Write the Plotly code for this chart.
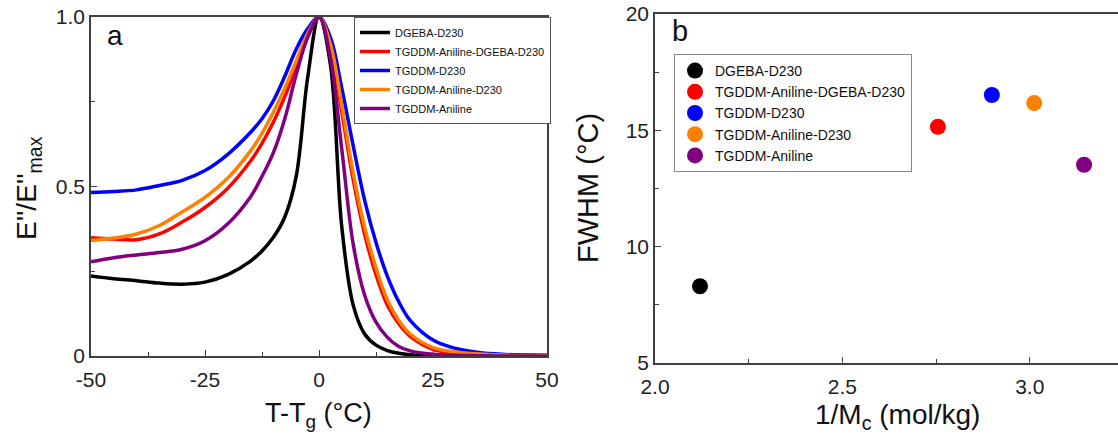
import plotly.graph_objects as go

# ---------------- Data ----------------
series_names = ["DGEBA-D230", "TGDDM-Aniline-DGEBA-D230", "TGDDM-D230",
                "TGDDM-Aniline-D230", "TGDDM-Aniline"]
colors = ["#000000", "#FF0000", "#0000FF", "#FF8000", "#800080"]

t_minus_tg = [-50, -45, -40, -35, -30, -25, -20, -15, -12.5, -10, -7.5, -5, -2.5, 0,
              2.5, 5, 7.5, 10, 12.5, 15, 17.5, 20, 25, 30, 35, 40, 50]

e_dgeba_d230 = [0.236, 0.228, 0.222, 0.215, 0.212, 0.218, 0.24, 0.28, 0.31, 0.35, 0.41, 0.53, 0.82, 1.0,
                0.86, 0.38, 0.15, 0.065, 0.032, 0.016, 0.008, 0.004, 0.001, 0.0, 0.0, 0.0, 0.0]
e_tgddm_an_dgeba = [0.349, 0.345, 0.343, 0.36, 0.395, 0.438, 0.495, 0.575, 0.627, 0.69, 0.765, 0.85, 0.94, 1.0,
                    0.91, 0.72, 0.52, 0.36, 0.24, 0.15, 0.095, 0.058, 0.02, 0.01, 0.005, 0.003, 0.001]
e_tgddm_d230 = [0.482, 0.485, 0.49, 0.503, 0.518, 0.547, 0.595, 0.66, 0.70, 0.753, 0.825, 0.905, 0.965, 1.0,
                0.94, 0.79, 0.62, 0.46, 0.335, 0.235, 0.16, 0.105, 0.047, 0.022, 0.01, 0.005, 0.002]
e_tgddm_an_d230 = [0.341, 0.348, 0.36, 0.385, 0.425, 0.468, 0.525, 0.605, 0.657, 0.72, 0.79, 0.87, 0.95, 1.0,
                   0.92, 0.74, 0.54, 0.38, 0.26, 0.165, 0.105, 0.065, 0.025, 0.012, 0.006, 0.003, 0.001]
e_tgddm_an = [0.278, 0.29, 0.298, 0.305, 0.315, 0.34, 0.39, 0.47, 0.53, 0.60, 0.70, 0.83, 0.94, 1.0,
              0.88, 0.61, 0.33, 0.18, 0.10, 0.055, 0.028, 0.015, 0.005, 0.002, 0.001, 0.0, 0.0]
e_curves = [e_dgeba_d230, e_tgddm_an_dgeba, e_tgddm_d230, e_tgddm_an_d230, e_tgddm_an]

inv_mc = [2.12, 2.755, 2.899, 3.012, 3.145]      # 1/Mc (mol/kg)
fwhm = [8.3, 15.15, 16.52, 16.17, 13.52]         # FWHM (°C)

a_xticks = [-50, -25, 0, 25, 50]
a_xticktext = ["-50", "-25", "0", "25", "50"]
a_yticks = [0, 0.5, 1.0]
a_yticktext = ["0", "0.5", "1.0"]
b_xticks = [2.0, 2.5, 3.0]
b_xticktext = ["2.0", "2.5", "3.0"]
b_yticks = [5, 10, 15, 20]
b_yticktext = ["5", "10", "15", "20"]

# ---------------- Figure ----------------
FONT = "Arial, Liberation Sans, sans-serif"
AXC = "#404040"
W, H = 1118, 438
fig = go.Figure()

for name, col, ys in zip(series_names, colors, e_curves):
    fig.add_trace(go.Scatter(
        x=t_minus_tg, y=ys, mode="lines", name=name,
        line=dict(color=col, width=3.5, shape="spline", smoothing=1.0),
        xaxis="x", yaxis="y", legend="legend"))

for name, col, xv, yv in zip(series_names, colors, inv_mc, fwhm):
    fig.add_trace(go.Scatter(
        x=[xv], y=[yv], mode="markers", name=name,
        marker=dict(color=col, size=16),
        xaxis="x2", yaxis="y2", legend="legend2"))

common = dict(showgrid=False, zeroline=False, showline=True, linecolor=AXC, linewidth=1.5,
              ticks="inside", ticklen=6, tickwidth=1.2, tickcolor=AXC, automargin=False,
              tickfont=dict(family=FONT, size=21, color="#222"))


def px_ann(text, x, y, size=24, angle=0):
    return dict(text=text, x=x / W, y=1 - y / H, xref="paper", yref="paper",
                xanchor="center", yanchor="middle", showarrow=False, textangle=angle,
                font=dict(family=FONT, size=size, color="#111"))


fig.update_layout(
    width=W, height=H, autosize=False,
    margin=dict(l=0, r=0, t=0, b=0, pad=0),
    paper_bgcolor="white", plot_bgcolor="white",
    showlegend=True,
    xaxis=dict(domain=[91 / W, 547 / W], range=[-50, 50], tickvals=a_xticks, ticktext=a_xticktext,
               mirror=True, anchor="y", ticklabelstandoff=4,
               minor=dict(dtick=12.5, tick0=-50, ticks="inside", ticklen=4, tickcolor=AXC), **common),
    yaxis=dict(domain=[1 - 356 / H, 1 - 17 / H], range=[0, 1.0], tickvals=a_yticks, ticktext=a_yticktext,
               mirror=True, anchor="x",
               minor=dict(dtick=0.25, tick0=0, ticks="inside", ticklen=4, tickcolor=AXC), **common),
    xaxis2=dict(domain=[655 / W, 1.0], range=[2.0, 3.2356], tickvals=b_xticks, ticktext=b_xticktext,
                mirror=True, anchor="y2", ticklabelstandoff=4,
                minor=dict(dtick=0.25, tick0=2.0, ticks="inside", ticklen=4, tickcolor=AXC), **common),
    yaxis2=dict(domain=[1 - 363 / H, 1 - 14 / H], range=[5, 20], tickvals=b_yticks, ticktext=b_yticktext,
                anchor="x2",
                minor=dict(dtick=2.5, tick0=5, ticks="inside", ticklen=4, tickcolor=AXC), **common),
    legend=dict(x=354 / W, y=1 - 17 / H, xanchor="left", yanchor="top",
                bgcolor="white", bordercolor="#555", borderwidth=1,
                font=dict(family=FONT, size=11, color="#111"),
                tracegroupgap=0, itemwidth=30),
    legend2=dict(x=674 / W, y=1 - 54 / H, xanchor="left", yanchor="top",
                 bgcolor="white", bordercolor="#888", borderwidth=1,
                 font=dict(family=FONT, size=14, color="#111"),
                 tracegroupgap=0, itemwidth=30),
    annotations=[
        px_ann("T-T<sub>g</sub> (°C)", 318, 415, size=27),
        px_ann("1/M<sub>c</sub> (mol/kg)", 897, 416, size=28),
        px_ann("E''/E''<sub>max</sub>", 28, 188, size=28, angle=-90),
        px_ann("FWHM (°C)", 588, 188, size=29, angle=-90),
        px_ann("a", 115, 35, size=28),
        px_ann("b", 680, 31, size=29),
    ],
)

fig.write_html(
    "out.html",
    config={"displayModeBar": False},
    post_script="document.body.style.margin='0';document.body.style.overflow='hidden';"
                "document.documentElement.style.overflow='hidden';",
)
